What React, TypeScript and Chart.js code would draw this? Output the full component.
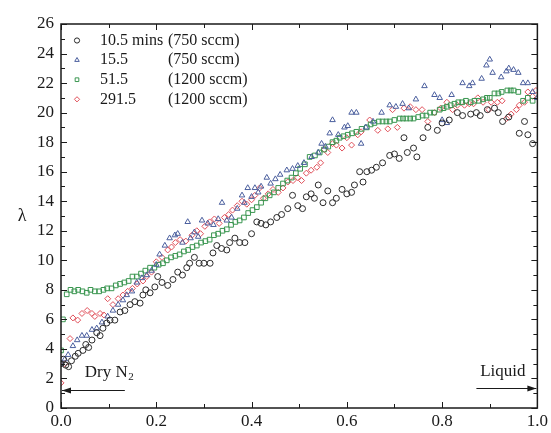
import React, { useEffect, useRef } from 'react';
import { Chart, registerables } from 'chart.js';
import { drawPoint } from 'chart.js/helpers';

Chart.register(...registerables);

// ---------- data ----------
const seriesTimes = ['10.5 mins', '15.5', '51.5', '291.5'];
const seriesFlows = ['(750 sccm)', '(750 sccm)', '(1200 sccm)', '(1200 sccm)'];
const seriesColors = ['#2a2a2a', '#4b5f9e', '#3a9650', '#e0505a'];
const seriesStyles = ['circle', 'triangle', 'rect', 'rectRot'];

const xTickValues = [0, 0.2, 0.4, 0.6, 0.8, 1.0];
const yTickValues = [0, 2, 4, 6, 8, 10, 12, 14, 16, 18, 20, 22, 24, 26];
const yAxisLabel = 'λ';
const leftNote = 'Dry N';
const leftNoteSub = '2';
const rightNote = 'Liquid';

const s105: [number, number][] = [
  [0.000, 3.0], [0.005, 3.3], [0.010, 2.9], [0.016, 2.8], [0.022, 3.2], [0.030, 3.5], [0.036, 3.7], [0.046, 3.9],
  [0.052, 4.3], [0.058, 4.1], [0.065, 4.6], [0.075, 5.1], [0.082, 4.9], [0.088, 5.4], [0.096, 5.75], [0.103, 5.95],
  [0.113, 5.95], [0.124, 6.5], [0.134, 6.6], [0.145, 7.0], [0.155, 7.2], [0.166, 7.1], [0.172, 7.65], [0.178, 8.0],
  [0.187, 7.8], [0.197, 8.2], [0.203, 8.9], [0.212, 8.5], [0.224, 8.3], [0.235, 8.7], [0.245, 9.2], [0.255, 9.0],
  [0.264, 9.5], [0.270, 9.8], [0.280, 10.2], [0.290, 9.8], [0.300, 9.8], [0.313, 9.8], [0.319, 10.5], [0.327, 11.0],
  [0.337, 10.8], [0.348, 10.7], [0.354, 11.2], [0.365, 11.5], [0.375, 11.2], [0.386, 11.2], [0.400, 11.8], [0.411, 12.6],
  [0.420, 12.5], [0.430, 12.4], [0.440, 12.6], [0.453, 12.9], [0.463, 13.1], [0.476, 13.5], [0.486, 14.4], [0.497, 13.7],
  [0.507, 13.5], [0.515, 14.3], [0.525, 14.5], [0.532, 14.2], [0.540, 15.1], [0.550, 13.9], [0.560, 14.7], [0.570, 13.9],
  [0.578, 14.2], [0.590, 14.8], [0.600, 14.5], [0.610, 14.6], [0.616, 15.1], [0.627, 16.0], [0.634, 15.3], [0.642, 16.0],
  [0.652, 16.1], [0.662, 16.3], [0.675, 16.6], [0.690, 17.1], [0.700, 17.2], [0.710, 16.9], [0.720, 18.3], [0.727, 17.3],
  [0.740, 17.6], [0.747, 17.0], [0.760, 18.3], [0.770, 19.0], [0.790, 18.8], [0.800, 19.3], [0.815, 19.5], [0.832, 20.0],
  [0.843, 19.8], [0.860, 19.9], [0.872, 20.0], [0.880, 19.8], [0.895, 20.2], [0.910, 20.3], [0.918, 20.0], [0.927, 19.4],
  [0.940, 19.7], [0.962, 18.6], [0.973, 19.4], [0.980, 18.5], [0.990, 17.9],
];

const s155: [number, number][] = [
  [0.000, 3.0], [0.008, 3.3], [0.015, 3.6], [0.025, 4.2], [0.034, 4.6], [0.044, 4.9], [0.054, 4.9], [0.065, 5.3],
  [0.075, 5.4], [0.086, 5.8], [0.098, 6.2], [0.109, 6.6], [0.120, 7.0], [0.130, 7.3], [0.138, 7.65], [0.149, 7.9],
  [0.159, 8.5], [0.170, 8.8], [0.180, 9.0], [0.190, 9.3], [0.200, 9.7], [0.207, 10.4], [0.218, 11.0], [0.228, 11.5],
  [0.239, 11.7], [0.245, 11.8], [0.255, 11.2], [0.266, 12.6], [0.272, 11.5], [0.280, 11.9], [0.288, 11.6], [0.296, 12.7],
  [0.308, 12.5], [0.320, 12.4], [0.330, 12.8], [0.338, 13.9], [0.348, 12.7], [0.358, 12.9], [0.370, 13.5], [0.380, 14.4],
  [0.385, 13.9], [0.392, 14.9], [0.400, 14.3], [0.407, 14.9], [0.414, 14.6], [0.420, 15.0], [0.432, 15.6], [0.440, 15.2],
  [0.450, 15.5], [0.460, 15.8], [0.474, 16.1], [0.486, 16.2], [0.497, 16.4], [0.510, 16.6], [0.526, 17.0], [0.540, 17.3],
  [0.547, 17.9], [0.555, 17.7], [0.564, 18.6], [0.570, 19.5], [0.582, 18.5], [0.595, 19.0], [0.602, 19.1], [0.610, 20.0],
  [0.620, 20.0], [0.630, 17.9], [0.640, 19.0], [0.655, 19.4], [0.673, 20.0], [0.690, 20.5], [0.703, 20.4], [0.717, 20.6],
  [0.730, 20.3], [0.745, 20.9], [0.763, 21.8], [0.784, 21.2], [0.795, 21.0], [0.800, 19.5], [0.810, 19.3], [0.820, 21.2],
  [0.843, 22.0], [0.857, 21.8], [0.864, 22.0], [0.883, 22.3], [0.893, 23.2], [0.900, 23.6], [0.906, 22.7], [0.924, 22.4],
  [0.935, 22.8], [0.940, 23.0], [0.950, 22.9], [0.960, 22.7], [0.970, 22.0], [0.980, 22.0], [0.990, 21.4], [1.000, 21.0],
];

const s515: [number, number][] = [
  [0.000, 3.9], [0.004, 6.0], [0.012, 7.7], [0.020, 8.0], [0.028, 7.9], [0.036, 8.0], [0.045, 7.9], [0.054, 7.8],
  [0.062, 8.0], [0.071, 7.9], [0.080, 7.9], [0.089, 8.0], [0.097, 8.1], [0.106, 8.1], [0.115, 8.3], [0.124, 8.4],
  [0.133, 8.5], [0.142, 8.6], [0.150, 8.9], [0.159, 8.9], [0.168, 9.1], [0.177, 9.3], [0.187, 9.5], [0.196, 9.5],
  [0.205, 9.7], [0.214, 9.8], [0.222, 10.0], [0.231, 10.2], [0.240, 10.3], [0.249, 10.4], [0.258, 10.6], [0.267, 10.7],
  [0.276, 10.9], [0.285, 11.0], [0.294, 11.2], [0.303, 11.3], [0.312, 11.4], [0.321, 11.7], [0.330, 11.8], [0.339, 12.0],
  [0.348, 12.1], [0.357, 12.4], [0.366, 12.6], [0.375, 12.7], [0.384, 12.9], [0.393, 13.2], [0.402, 13.4], [0.411, 13.6],
  [0.420, 13.9], [0.429, 14.2], [0.438, 14.4], [0.447, 14.6], [0.456, 14.9], [0.466, 15.2], [0.475, 15.4], [0.484, 15.6],
  [0.493, 15.9], [0.502, 16.2], [0.512, 16.5], [0.522, 17.0], [0.533, 17.1], [0.543, 17.3], [0.552, 17.5], [0.561, 17.7],
  [0.570, 18.0], [0.578, 18.1], [0.585, 18.3], [0.593, 18.4], [0.602, 18.5], [0.611, 18.6], [0.620, 18.7], [0.631, 18.9],
  [0.642, 19.0], [0.650, 19.2], [0.658, 19.3], [0.667, 19.4], [0.675, 19.4], [0.683, 19.4], [0.690, 19.4], [0.700, 19.5],
  [0.711, 19.6], [0.718, 19.6], [0.725, 19.6], [0.733, 19.6], [0.740, 19.6], [0.750, 19.7], [0.759, 19.8], [0.767, 19.8],
  [0.775, 20.0], [0.783, 20.0], [0.795, 20.2], [0.803, 20.3], [0.810, 20.4], [0.818, 20.5], [0.826, 20.6], [0.834, 20.7],
  [0.842, 20.7], [0.850, 20.8], [0.860, 20.7], [0.868, 20.8], [0.877, 20.8], [0.886, 20.9], [0.894, 21.0], [0.900, 21.0],
  [0.910, 21.3], [0.918, 21.3], [0.925, 21.4], [0.937, 21.5], [0.944, 21.5], [0.950, 21.5], [0.960, 21.4], [0.970, 20.8],
  [0.980, 21.0], [0.990, 20.8],
];

const s2915: [number, number][] = [
  [0.000, 1.7], [0.008, 3.0], [0.019, 4.7], [0.025, 6.1], [0.035, 5.95], [0.044, 6.4], [0.055, 6.6], [0.065, 6.4],
  [0.071, 6.2], [0.082, 6.4], [0.090, 6.3], [0.098, 7.4], [0.109, 7.0], [0.120, 7.4], [0.130, 7.65], [0.140, 7.9],
  [0.150, 8.1], [0.160, 8.4], [0.172, 8.6], [0.180, 8.9], [0.190, 9.2], [0.200, 9.9], [0.212, 10.2], [0.224, 10.7],
  [0.232, 10.9], [0.240, 11.2], [0.250, 11.4], [0.262, 11.3], [0.275, 11.7], [0.285, 12.0], [0.293, 11.8], [0.302, 12.3],
  [0.312, 12.6], [0.322, 12.8], [0.332, 12.5], [0.343, 12.9], [0.352, 13.1], [0.360, 13.4], [0.370, 13.7], [0.380, 14.0],
  [0.390, 13.8], [0.400, 14.1], [0.407, 14.4], [0.417, 14.9], [0.425, 14.2], [0.435, 14.5], [0.445, 14.8], [0.456, 14.6],
  [0.466, 14.9], [0.476, 15.3], [0.487, 15.4], [0.497, 15.6], [0.505, 15.4], [0.515, 15.9], [0.525, 16.1], [0.537, 16.3],
  [0.545, 16.6], [0.553, 17.5], [0.560, 17.3], [0.570, 17.9], [0.578, 17.8], [0.590, 17.6], [0.600, 18.3], [0.610, 17.8],
  [0.623, 18.5], [0.630, 18.7], [0.648, 19.5], [0.665, 18.8], [0.686, 18.9], [0.696, 20.2], [0.706, 19.0], [0.720, 20.3],
  [0.733, 20.4], [0.745, 20.2], [0.758, 20.2], [0.770, 19.4], [0.784, 20.0], [0.797, 20.3], [0.810, 20.7], [0.822, 20.2],
  [0.832, 20.5], [0.847, 20.5], [0.857, 20.6], [0.866, 20.6], [0.875, 21.0], [0.886, 20.7], [0.898, 20.2], [0.903, 20.7],
  [0.916, 20.7], [0.926, 20.8], [0.935, 19.6], [0.945, 19.9], [0.956, 20.2], [0.962, 20.5], [0.973, 20.7], [0.980, 21.4],
  [0.990, 21.1], [0.997, 21.5],
];

const allSeries = [s105, s155, s515, s2915];

// ---------- styling ----------
const FONT = "'Liberation Serif', 'Times New Roman', serif";
const INK = '#1a1a1a';

const decorPlugin = {
  id: 'decor',
  afterDraw(chart: any) {
    const { ctx, chartArea: a, scales } = chart;
    const xs = scales.x;
    const ys = scales.y;
    ctx.save();
    ctx.strokeStyle = INK;
    ctx.fillStyle = INK;

    // frame
    ctx.lineWidth = 1.5;
    ctx.strokeRect(a.left, a.top, a.right - a.left, a.bottom - a.top);

    // inward ticks on all four sides
    ctx.lineWidth = 1;
    const seg = (x1: number, y1: number, x2: number, y2: number) => {
      ctx.beginPath();
      ctx.moveTo(x1, y1);
      ctx.lineTo(x2, y2);
      ctx.stroke();
    };
    for (let i = 0; i <= 10; i++) {
      const px = Math.round(xs.getPixelForValue(i / 10)) + 0.5;
      const len = i % 2 === 0 ? 6 : 4;
      seg(px, a.bottom, px, a.bottom - len);
      seg(px, a.top, px, a.top + len);
    }
    for (let v = 0; v <= 26; v++) {
      const py = Math.round(ys.getPixelForValue(v)) + 0.5;
      const len = v % 2 === 0 ? 6 : 4;
      seg(a.left, py, a.left + len, py);
      seg(a.right, py, a.right - len, py);
    }

    // y-axis label
    ctx.font = `18px ${FONT}`;
    ctx.textAlign = 'center';
    ctx.textBaseline = 'middle';
    ctx.fillText(yAxisLabel, 22, (a.top + a.bottom) / 2);

    // legend
    const legX = a.left + 16;
    const textX = a.left + 39;
    const colX = a.left + 107;
    ctx.font = `16px ${FONT}`;
    ctx.textAlign = 'left';
    for (let i = 0; i < seriesTimes.length; i++) {
      const ly = a.top + 16.5 + i * 19.6;
      ctx.save();
      ctx.strokeStyle = seriesColors[i];
      ctx.fillStyle = 'rgba(0,0,0,0)';
      ctx.lineWidth = 1;
      drawPoint(ctx, { pointStyle: seriesStyles[i], radius: 2.6, rotation: 0, borderWidth: 1 } as any, legX, ly);
      ctx.restore();
      ctx.fillStyle = INK;
      ctx.fillText(seriesTimes[i], textX, ly);
      const w = ctx.measureText(seriesTimes[i]).width;
      ctx.fillText(seriesFlows[i], Math.max(colX, textX + w + 4), ly);
    }

    // arrows and notes
    const arrow = (x1: number, x2: number, y: number) => {
      ctx.lineWidth = 1.2;
      seg(x1, y, x2, y);
      const dir = Math.sign(x2 - x1);
      ctx.beginPath();
      ctx.moveTo(x2, y);
      ctx.lineTo(x2 - dir * 9, y - 3);
      ctx.lineTo(x2 - dir * 9, y + 3);
      ctx.closePath();
      ctx.fill();
    };
    const dy = Math.round(ys.getPixelForValue(1.22)) + 0.5;
    arrow(xs.getPixelForValue(0.134), xs.getPixelForValue(0) + 1, dy);
    const ly2 = Math.round(ys.getPixelForValue(1.35)) + 0.5;
    arrow(xs.getPixelForValue(0.872), xs.getPixelForValue(1.0) - 1, ly2);

    ctx.font = `17px ${FONT}`;
    ctx.textBaseline = 'middle';
    ctx.textAlign = 'left';
    const nx = xs.getPixelForValue(0.05);
    const ny = ys.getPixelForValue(2.4);
    ctx.fillText(leftNote, nx, ny);
    const nw = ctx.measureText(leftNote).width;
    ctx.font = `11px ${FONT}`;
    ctx.fillText(leftNoteSub, nx + nw + 0.5, ny + 5);
    ctx.font = `17px ${FONT}`;
    ctx.fillText(rightNote, xs.getPixelForValue(0.88), ys.getPixelForValue(2.45));

    ctx.restore();
  },
};

export default function App() {
  const ref = useRef<HTMLCanvasElement | null>(null);

  useEffect(() => {
    if (!ref.current) return;
    const datasets = allSeries.map((s, i) => ({
      label: `${seriesTimes[i]} ${seriesFlows[i]}`,
      data: s.map(([x, y]) => ({ x, y })),
      showLine: false,
      pointStyle: seriesStyles[i] as any,
      pointRadius: i === 1 ? 3.2 : i === 2 ? 3.3 : 3,
      pointBorderWidth: 1,
      pointBorderColor: seriesColors[i],
      pointBackgroundColor: 'rgba(0,0,0,0)',
      borderColor: seriesColors[i],
      backgroundColor: 'rgba(0,0,0,0)',
    }));

    const chart = new Chart(ref.current, {
      type: 'scatter',
      data: { datasets },
      options: {
        responsive: false,
        animation: false,
        layout: { padding: { top: 24, right: 13, left: 0, bottom: 0 } },
        plugins: { legend: { display: false }, tooltip: { enabled: false } },
        scales: {
          x: {
            type: 'linear',
            min: 0,
            max: 1,
            afterFit: (s: any) => { s.height = 25; },
            afterBuildTicks: (s: any) => { s.ticks = xTickValues.map((v) => ({ value: v })); },
            ticks: {
              callback: (v: any) => Number(v).toFixed(1),
              font: { family: FONT, size: 17 },
              color: INK,
              padding: 3,
              maxRotation: 0,
              autoSkip: false,
            },
            grid: { display: false, drawTicks: false },
            border: { display: false },
          },
          y: {
            type: 'linear',
            min: 0,
            max: 26,
            afterFit: (s: any) => { s.width = 61; },
            afterBuildTicks: (s: any) => { s.ticks = yTickValues.map((v) => ({ value: v })); },
            ticks: {
              font: { family: FONT, size: 17 },
              color: INK,
              padding: 7,
              autoSkip: false,
            },
            grid: { display: false, drawTicks: false },
            border: { display: false },
          },
        },
      },
      plugins: [decorPlugin],
    });
    return () => chart.destroy();
  }, []);

  return (
    <div style={{ position: 'fixed', left: 0, top: 0, width: 551, height: 433, background: '#fff' }}>
      <canvas ref={ref} width={551} height={433} style={{ display: 'block' }} />
    </div>
  );
}
